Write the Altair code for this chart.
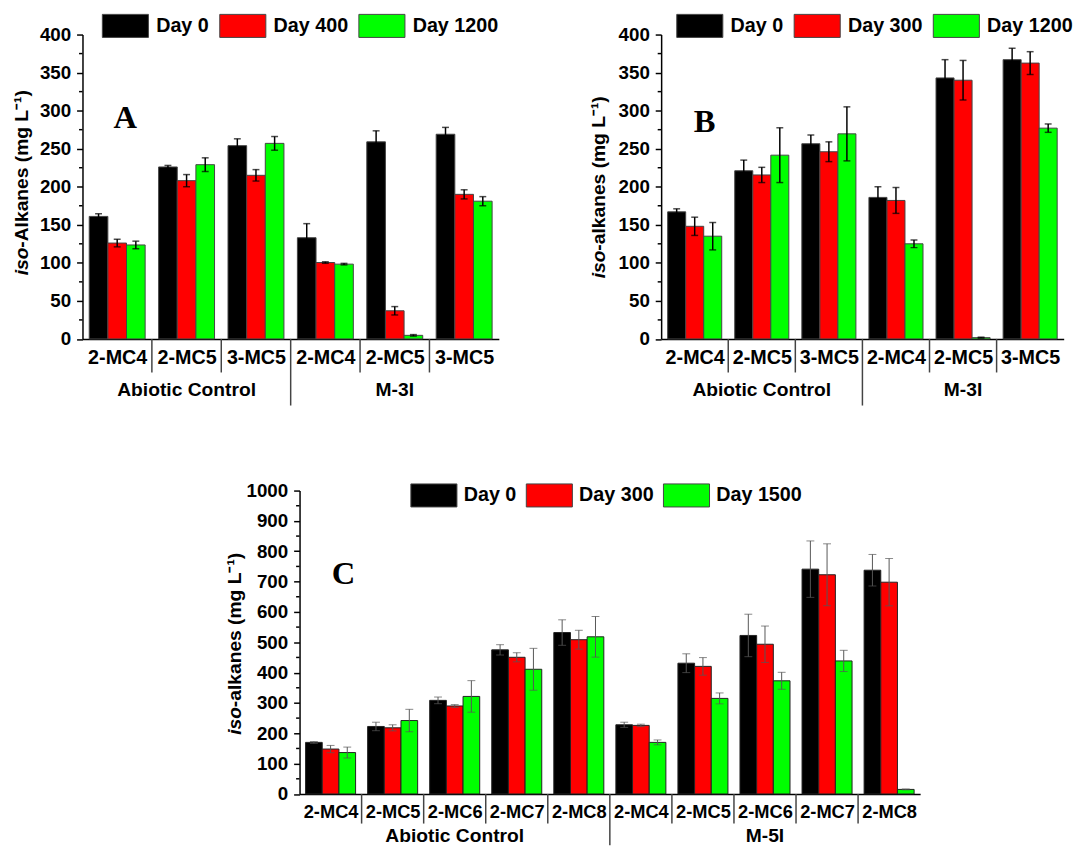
import altair as alt
import pandas as pd

FONT = "Liberation Sans"

# ---------------- data ----------------
colors = ["#000000", "#ff0000", "#00ff00"]

series_A = ["Day 0", "Day 400", "Day 1200"]
series_B = ["Day 0", "Day 300", "Day 1200"]
series_C = ["Day 0", "Day 300", "Day 1500"]

groups_AB = ["Abiotic Control", "Abiotic Control", "Abiotic Control", "M-3I", "M-3I", "M-3I"]
cats_AB = ["2-MC4", "2-MC5", "3-MC5", "2-MC4", "2-MC5", "3-MC5"]

groups_C = ["Abiotic Control"] * 5 + ["M-5I"] * 5
cats_C = ["2-MC4", "2-MC5", "2-MC6", "2-MC7", "2-MC8",
          "2-MC4", "2-MC5", "2-MC6", "2-MC7", "2-MC8"]

A_day0 = [161, 226, 254, 133, 259, 269]
A_day0_err = [3.5, 2, 9, 18.5, 14.5, 9]
A_day400 = [126, 208, 215, 100.4, 37, 190]
A_day400_err = [5, 8, 7.5, 1, 5.5, 6]
A_day1200 = [123.5, 229, 257, 98.3, 4.7, 181]
A_day1200_err = [5, 9, 9, 1, 1, 6]

B_day0 = [167, 221, 256.5, 186, 343, 367]
B_day0_err = [4, 14, 11.5, 14, 24, 15]
B_day300 = [148, 215.5, 246, 182, 340, 362.5]
B_day300_err = [12, 10, 13, 17, 26, 15]
B_day1200 = [135, 241.5, 269.5, 125, 1.7, 277]
B_day1200_err = [18, 36, 35.5, 5, 0.6, 5.5]

C_day0 = [170, 222.5, 308.5, 475, 532, 228, 431, 522.5, 741, 737.5]
C_day0_err = [3, 14, 11, 17, 42, 8.5, 31, 70, 93, 52]
C_day300 = [148, 218, 290, 450.5, 508.5, 226, 420.5, 493.5, 722.5, 698]
C_day300_err = [12, 10, 4.5, 15, 31, 4, 29, 60, 102, 78]
C_day1500 = [136.5, 242, 321.5, 411, 518, 170, 315, 373, 438.5, 15]
C_day1500_err = [18, 37, 52, 69, 67, 8, 18, 28, 35, 1.5]

ticks_AB = [0, 50, 100, 150, 200, 250, 300, 350, 400]
minor_AB = [25, 75, 125, 175, 225, 275, 325, 375]
ticks_C = [0, 100, 200, 300, 400, 500, 600, 700, 800, 900, 1000]
minor_C = [50, 150, 250, 350, 450, 550, 650, 750, 850, 950]

SYM_H = 23.35          # legend swatch height (width is twice this)
GROUP_MARGIN = 0.097   # empty share of each category slot on either side of its bars
CELL_W = 422           # width of a grid cell
CELL_H = 308.5


def panel(groups, cats, series, vals, errs, ymax, ticks, minor, plot_w, h,
          title_rest, letter, cfg):
    x0 = cfg["x0"]            # left edge of the plot inside its grid cell
    n = len(cats)
    ns = len(series)
    bw = (1 - 2 * GROUP_MARGIN) / ns
    rows = []
    for j, (s, vl, el) in enumerate(zip(series, vals, errs)):
        for i, (v, e) in enumerate(zip(vl, el)):
            c = i + 0.5 + (j - (ns - 1) / 2) * bw
            rows.append({"series": s, "value": v, "lo": max(v - e, 0), "hi": v + e,
                         "xc": c, "x0": c - bw / 2, "x1": c + bw / 2})
    df = pd.DataFrame(rows)

    xs = alt.Scale(domain=[0, n], range=[x0, x0 + plot_w], nice=False, zero=False)
    ys = alt.Scale(domain=[0, ymax], nice=False, zero=True)

    label_arr = "[" + ",".join(f"'{c}'" for c in cats) + "]"
    xaxis = alt.Axis(values=[i + 0.5 for i in range(n)],
                     labelExpr=f"{label_arr}[floor(datum.value)]", labelAngle=0,
                     labelFont=FONT, labelFontSize=cfg["xlab_size"],
                     labelFontWeight="bold", labelColor="black", labelFlush=False,
                     labelOverlap=False, labelPadding=cfg["xlab_pad"], ticks=False,
                     tickSize=0, domainColor="black", domainWidth=1.5, grid=False,
                     title=None)
    yaxis = alt.Axis(values=ticks, format="d", tickSize=6, tickWidth=1.5, tickColor="black",
                     domainColor="black", domainWidth=1.5, labelFont=FONT,
                     labelFontSize=19, labelFontWeight="bold", labelColor="black",
                     labelPadding=6, labelOverlap=False, grid=False, title=None,
                     offset=-x0)

    def xenc(field):
        return alt.X(field, scale=xs, axis=xaxis, title=None)

    def yenc(field):
        return alt.Y(field, scale=ys, axis=yaxis, title=None)

    bars = alt.Chart(df).mark_bar(stroke=cfg["bar_stroke"], strokeWidth=1).encode(
        x=xenc("x0:Q"), x2="x1:Q", y=yenc("value:Q"), y2=alt.datum(0),
        color=alt.Color("series:N", sort=series,
                        scale=alt.Scale(domain=series, range=colors),
                        legend=alt.Legend(title=None, orient="none",
                                          legendX=x0 + cfg["leg_x"] + SYM_H / 2,
                                          legendY=cfg["leg_y"] - SYM_H / 2,
                                          direction="horizontal", columns=3,
                                          symbolType="M-2,-1H2V1H-2Z",
                                          symbolSize=SYM_H * SYM_H,
                                          symbolStrokeColor="#444", symbolStrokeWidth=1,
                                          symbolOpacity=1,
                                          labelFont=FONT, labelFontSize=20,
                                          labelFontWeight="bold", labelColor="black",
                                          labelOffset=cfg["leg_lo"] + SYM_H / 2,
                                          columnPadding=cfg["leg_cp"], padding=0)),
    )

    rules = alt.Chart(df).mark_rule(color=cfg["err_color"], strokeWidth=cfg["err_w"]).encode(
        x=xenc("xc:Q"), y=yenc("lo:Q"), y2="hi:Q")
    cap_hi = alt.Chart(df).mark_tick(color=cfg["err_color"], thickness=cfg["err_w"],
                                     size=cfg["cap"], orient="horizontal").encode(
        x=xenc("xc:Q"), y=yenc("hi:Q"))
    cap_lo = alt.Chart(df).mark_tick(color=cfg["err_color"], thickness=cfg["err_w"],
                                     size=cfg["cap"], orient="horizontal").encode(
        x=xenc("xc:Q"), y=yenc("lo:Q"))

    minor_df = pd.DataFrame({"v": minor})
    minor_r = alt.Chart(minor_df).mark_rule(color="black", strokeWidth=1.5).encode(
        y=yenc("v:Q"), x=alt.value(x0 - 3.5), x2=alt.value(x0))

    short_b = [i for i in range(1, n) if groups[i] == groups[i - 1]]
    long_b = [i for i in range(1, n) if groups[i] != groups[i - 1]]
    sep_s = alt.Chart(pd.DataFrame({"b": short_b})).mark_rule(
        color="#444", strokeWidth=1.5).encode(
        x=xenc("b:Q"), y=alt.value(h), y2=alt.value(h + cfg["sep_short"]))
    sep_l = alt.Chart(pd.DataFrame({"b": long_b})).mark_rule(
        color="#444", strokeWidth=1.5).encode(
        x=xenc("b:Q"), y=alt.value(h), y2=alt.value(h + cfg["sep_long"]))

    glab_rows = []
    for g in dict.fromkeys(groups):
        idx = [i for i, gg in enumerate(groups) if gg == g]
        glab_rows.append({"gc": (idx[0] + idx[-1] + 1) / 2, "label": g})
    glab = alt.Chart(pd.DataFrame(glab_rows)).mark_text(
        font=FONT, fontSize=19.5, fontWeight="bold", color="black",
        align="center", baseline="alphabetic").encode(
        x=xenc("gc:Q"), y=alt.value(h + cfg["glab_dy"]), text="label:N")

    t1 = alt.Chart(pd.DataFrame({"t": ["iso"]})).mark_text(
        angle=270, align="left", baseline="alphabetic", font=FONT, fontSize=19.5,
        fontStyle="italic", fontWeight="bold", color="black").encode(
        x=alt.value(x0 + cfg["tx"]), y=alt.value(cfg["ty"]), text="t:N")
    t2 = alt.Chart(pd.DataFrame({"t": [title_rest]})).mark_text(
        angle=270, align="left", baseline="alphabetic", font=FONT, fontSize=19.5,
        fontWeight="bold", color="black").encode(
        x=alt.value(x0 + cfg["tx"]), y=alt.value(cfg["ty"] - 28), text="t:N")

    let = alt.Chart(pd.DataFrame({"t": [letter]})).mark_text(
        align="left", baseline="alphabetic", font="Liberation Serif", fontSize=33,
        fontWeight="bold", color="black").encode(
        x=alt.value(x0 + cfg["lx"]), y=alt.value(cfg["ly"]), text="t:N")

    return alt.layer(bars, rules, cap_hi, cap_lo, minor_r, sep_s, sep_l, glab,
                     t1, t2, let).properties(width=CELL_W, height=h)


# leg_x: left edge of first swatch, leg_y: centre of swatches (relative to plot)
cfg_A = dict(x0=0, bar_stroke="#444", err_color="black", err_w=1.5, cap=7,
             xlab_size=20, xlab_pad=9, sep_short=34, sep_long=67.5, glab_dy=57.4,
             leg_x=19.3, leg_y=-10, leg_lo=7, leg_cp=8, tx=-55, ty=244, lx=31.4, ly=95)
cfg_B = dict(cfg_A, leg_x=15, leg_cp=8, tx=-57, ty=247, lx=33, ly=99)
cfg_C = dict(x0=220, bar_stroke="#222", err_color="#555", err_w=1, cap=8,
             xlab_size=18.5, xlab_pad=8.5, sep_short=30, sep_long=52, glab_dy=49,
             leg_x=112, leg_y=3.7, leg_lo=6, leg_cp=7, tx=-59, ty=247.5, lx=32.7, ly=94.8)

pA = panel(groups_AB, cats_AB, series_A, [A_day0, A_day400, A_day1200],
           [A_day0_err, A_day400_err, A_day1200_err], 400, ticks_AB, minor_AB,
           422, CELL_H, "-Alkanes (mg L\u207b\u00b9)", "A", cfg_A)
pB = panel(groups_AB, cats_AB, series_B, [B_day0, B_day300, B_day1200],
           [B_day0_err, B_day300_err, B_day1200_err], 400, ticks_AB, minor_AB,
           408, CELL_H, "-alkanes (mg L\u207b\u00b9)", "B", cfg_B)
pC = panel(groups_C, cats_C, series_C, [C_day0, C_day300, C_day1500],
           [C_day0_err, C_day300_err, C_day1500_err], 1000, ticks_C, minor_C,
           629, 307.5, "-alkanes (mg L\u207b\u00b9)", "C", cfg_C)

chart = (
    alt.ConcatChart(concat=[pA, pB, pC], columns=2,
                    spacing={"row": 153.2, "column": 164.5}, bounds="flush")
    .resolve_scale(color="independent")
    .properties(padding={"left": 3.5, "top": -0.8, "right": 0, "bottom": 0},
                background="white")
    .configure(font=FONT)
    .configure_view(stroke="transparent", strokeWidth=0)
)

chart.save("out.html", embed_options={"renderer": "svg", "actions": False})
